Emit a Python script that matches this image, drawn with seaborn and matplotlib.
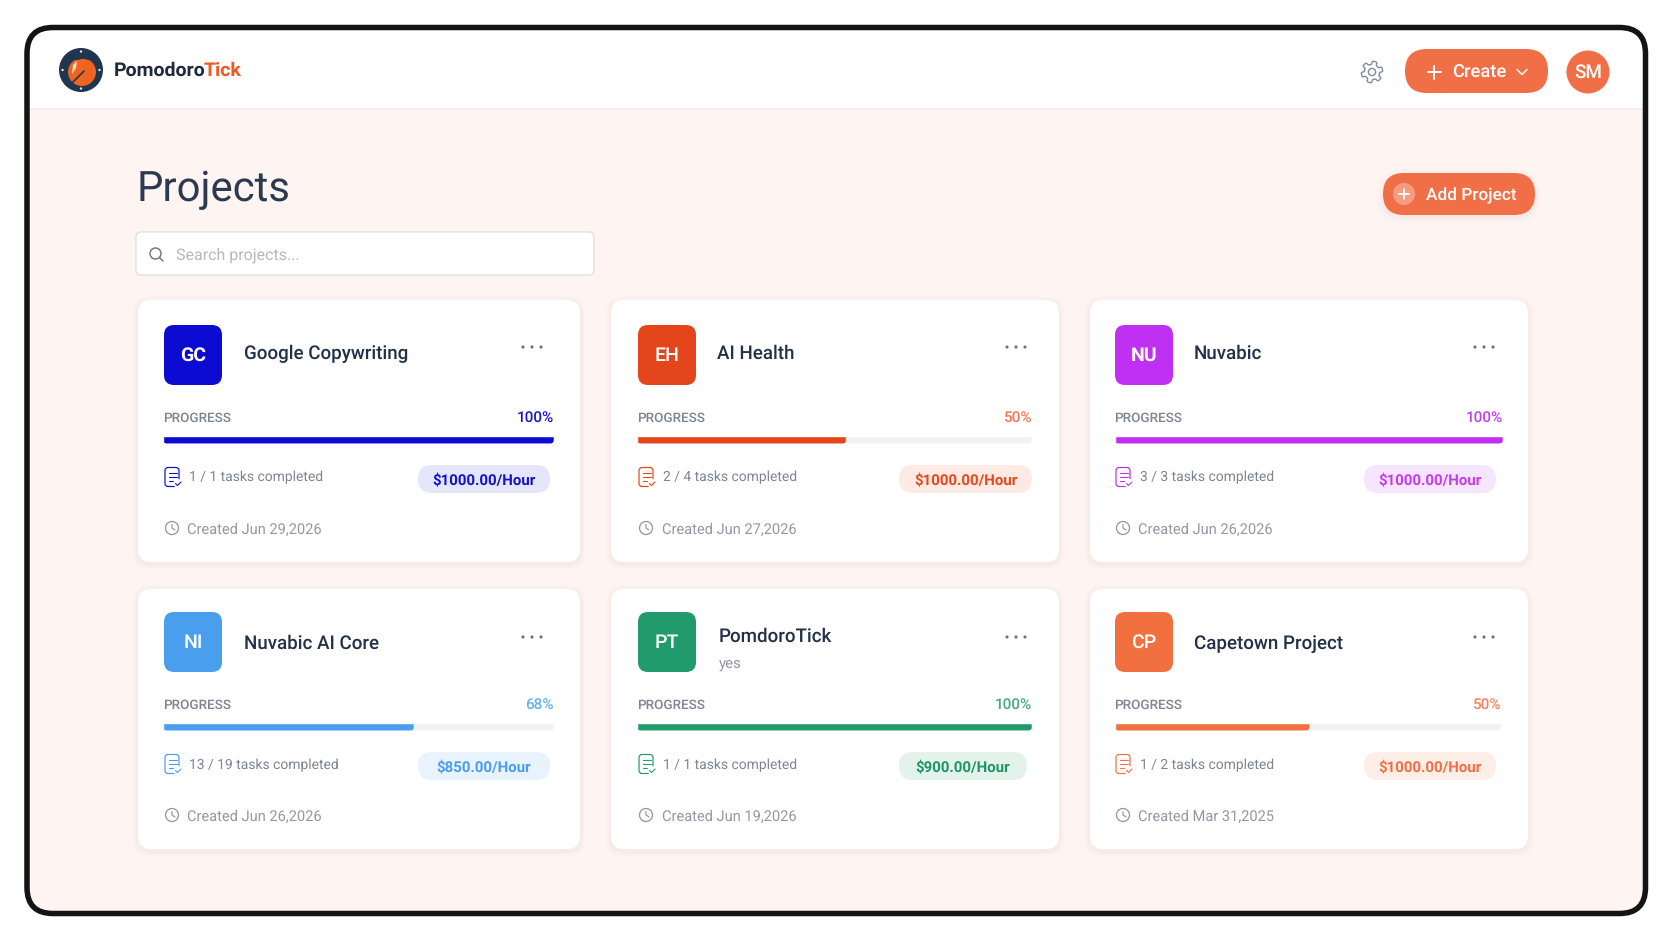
import numpy as np
import matplotlib
matplotlib.use("Agg")
import matplotlib.pyplot as plt
from matplotlib.patches import FancyBboxPatch, Circle, Polygon
import seaborn as sns

W, H = 1672, 941

# card data
names = ['Google Copywriting', 'AI Health', 'Nuvabic', 'Nuvabic AI Core', 'PomdoroTick', 'Capetown Project']
initials = ['GC', 'EH', 'NU', 'NI', 'PT', 'CP']
subtitles = ['', '', '', '', 'yes', '']
pct_labels = ['100%', '50%', '100%', '68%', '100%', '50%']
bar_fill = [100, 53, 100, 64.2, 100, 50.5]
tasks = ['1 / 1 tasks completed', '2 / 4 tasks completed', '3 / 3 tasks completed',
         '13 / 19 tasks completed', '1 / 1 tasks completed', '1 / 2 tasks completed']
rates = ['$1000.00/Hour', '$1000.00/Hour', '$1000.00/Hour', '$850.00/Hour', '$900.00/Hour', '$1000.00/Hour']
created = ['Created Jun 29,2026', 'Created Jun 27,2026', 'Created Jun 26,2026',
           'Created Jun 26,2026', 'Created Jun 19,2026', 'Created Mar 31,2025']

# colours per card
main_col = ['#0b0bd2', '#e5451a', '#c030f2', '#4a9eee', '#219b6b', '#f2703f']
pct_col = ['#1616d8', '#f9754f', '#c440f2', '#66aef2', '#45aa7e', '#f98263']
pill_bg = ['#e6e6fa', '#fdeae4', '#f6e6fd', '#e8f3fd', '#e3f3eb', '#fdeee8']
pill_txt = ['#1212d0', '#e8481a', '#c53cf0', '#4b9ded', '#1f9567', '#f26f43']
initials_weight = ['semibold', 'medium', 'semibold', 'medium', 'medium', 'medium']

# layout, in pixels of the reference
card_x = [(138, 580), (611, 1059), (1090, 1528)] * 2
card_y = [(300, 562)] * 3 + [(589, 849)] * 3
avatar_x = [164, 638, 1115] * 2
title_x = [244, 717, 1194, 244, 719, 1194]
dots_x = [532, 1016, 1484] * 2
bar_x = [(163, 554), (637, 1032), (1114.5, 1503), (163, 554), (637, 1032), (1114.5, 1501)]
pill_x = [(418, 550), (899, 1032), (1364, 1496), (418, 550), (899, 1027), (1364, 1496)]
task_x = [189, 663, 1140, 189, 663, 1140]
created_x = [187, 662, 1138, 187, 662, 1138]

DARK = '#223048'
GREY = '#7d8494'
LIGHT_GREY = '#9298a6'
ORANGE = '#f06f47'
BG = '#fef4f1'

sns.set_theme(style='white')
plt.rcParams['font.family'] = ['Roboto', 'DejaVu Sans']
plt.rcParams['text.hinting'] = 'no_hinting'

fig = plt.figure(figsize=(W / 100, H / 100), dpi=100, facecolor='white')
ax = fig.add_axes([0, 0, 1, 1])
ax.set_xlim(0, W)
ax.set_ylim(H, 0)
ax.axis('off')


def px(v):
    return v * 0.72


def rbox(x0, y0, x1, y1, r, **kw):
    kw.setdefault('linewidth', 0)
    p = FancyBboxPatch((x0 + r, y0 + r), x1 - x0 - 2 * r, y1 - y0 - 2 * r,
                       boxstyle=f'round,pad={r},rounding_size={r}', **kw)
    ax.add_patch(p)
    return p


def disc(x, y, r, color, z=5):
    ax.add_patch(Circle((x, y), r, facecolor=color, linewidth=0, zorder=z))


def ring(x, y, r, color, lw=1.4, z=5):
    ax.add_patch(Circle((x, y), r, facecolor='none', edgecolor=color, linewidth=px(lw), zorder=z))


def txt(x, y, s, size, color, weight='normal', ha='left', **kw):
    ax.text(x, y, s, fontsize=size, color=color, fontweight=weight, ha=ha, va='baseline', **kw)


def shadow(x0, y0, x1, y1, r, color='#c9a79c'):
    for grow, a in [(6, 0.025), (4, 0.035), (2, 0.05)]:
        rbox(x0 - grow, y0 - grow + 2, x1 + grow, y1 + grow + 2, r + grow, facecolor=color, alpha=a, zorder=2)


def stroke(xs, ys, color, lw=1.5, z=6):
    ax.plot(xs, ys, color=color, lw=px(lw), solid_capstyle='round', solid_joinstyle='round', zorder=z)


def task_icon(x, y, color):
    rbox(x, y, x + 14, y + 19, 3, facecolor='white', edgecolor=color, linewidth=px(1.2), zorder=5)
    for yy, l in [(5, 8), (9, 8), (13, 4)]:
        stroke([x + 3.5, x + 3.5 + l], [y + yy, y + yy], color, 1.1)
    disc(x + 13, y + 16, 4.5, 'white', 5.5)
    stroke([x + 10.5, x + 12.5, x + 16], [y + 16, y + 18, y + 14.5], color, 1.1)


def clock_icon(x, y, color):
    ring(x, y, 6.5, color, 1.3)
    stroke([x, x, x + 3], [y - 3.5, y, y + 2], color, 1.2)


def gear_icon(x, y, color):
    t = np.linspace(0, 2 * np.pi, 241)
    r = 9.2 + 1.6 * np.tanh(3 * np.cos(6 * t + np.pi / 2))
    ax.add_patch(Polygon(np.c_[x + r * np.cos(t), y + r * np.sin(t)], closed=True, facecolor='none',
                         edgecolor=color, linewidth=px(1.4), joinstyle='round', zorder=5))
    ring(x, y, 3.6, color)


# device frame, white header clipped to it
frame = rbox(27, 27.5, 1645.5, 913.5, 26, facecolor=BG, zorder=1)
header = ax.fill_between([0, W], 0, 108, color='white', linewidth=0, zorder=1.1)
header.set_clip_path(frame)
ax.plot([30, 1643], [108.5, 108.5], color='#f3ecea', lw=px(1.5), zorder=1.2)
rbox(27, 27.5, 1645.5, 913.5, 26, facecolor='none', edgecolor='#141414', linewidth=px(5.5), zorder=20)

# logo
disc(81, 70, 22, '#1f3550', 3)
disc(82, 72, 14, '#ee6420', 4)
for dx, dy in [(0, -18.5), (0, 18.5), (-18.5, 0), (18.5, 0)]:
    disc(81 + dx, 70 + dy, 1.2, '#e6e9ef')
ax.add_patch(Polygon([(72, 74), (73, 65), (77, 61), (76, 68)], closed=True, facecolor='#ffe3d2', linewidth=0, zorder=5))
stroke([72, 84], [83, 71], '#1f3550', 1.6)
stroke([76, 83, 90], [58.5, 57, 58.5], '#1f3550', 3.5)
txt(114, 76, 'Pomodoro', 14, '#1f2a3c', 'bold')
txt(204, 76, 'Tick', 14, '#f4581f', 'bold')

# top right controls
gear_icon(1372, 72, '#7f8a9e')
rbox(1405, 49, 1548, 93, 22, facecolor=ORANGE, zorder=3)
stroke([1434, 1434], [65.5, 78.5], 'white', 2, 5)
stroke([1427.5, 1440.5], [72, 72], 'white', 2, 5)
txt(1452, 78, 'Create', 13.2, 'white', 'medium', zorder=5)
stroke([1517, 1522, 1527], [69.5, 74.5, 69.5], 'white', 1.5, 5)
disc(1588, 72, 21.5, ORANGE, 3)
txt(1588, 78, 'SM', 13.6, 'white', 'medium', ha='center', zorder=5)

# page head
txt(136.5, 201, 'Projects', 30.2, '#2c3a50', 'normal')
shadow(1383, 173, 1535, 215, 21)
rbox(1383, 173, 1535, 215, 21, facecolor=ORANGE, zorder=3)
disc(1404, 194, 11, '#f59b7f', 4)
stroke([1404, 1404], [189, 199], 'white', 1.8, 5)
stroke([1399, 1409], [194, 194], 'white', 1.8, 5)
txt(1426, 200, 'Add Project', 12.4, 'white', 'medium', zorder=5)

# search box
rbox(136, 232, 594, 275, 5, facecolor='white', edgecolor='#e2dfe0', linewidth=px(1.3), zorder=3)
ring(155.5, 253.5, 5.5, '#6f7a8c', 1.5)
stroke([159.5, 163], [257.5, 261], '#6f7a8c', 1.5)
txt(176.5, 260, 'Search projects...', 11.5, '#b4b8c2', zorder=5)

# cards
for i, name in enumerate(names):
    x0, x1 = card_x[i]
    y0, y1 = card_y[i]
    c = main_col[i]
    row2 = i >= 3

    shadow(x0, y0, x1, y1, 13)
    rbox(x0, y0, x1, y1, 13, facecolor='white', zorder=3)

    ay0 = y0 + 25 - (2 if row2 else 0)
    rbox(avatar_x[i], ay0, avatar_x[i] + 58, ay0 + 60, 10, facecolor=c, zorder=4)
    txt(avatar_x[i] + 29, ay0 + 36, initials[i], 14, 'white', initials_weight[i], ha='center', zorder=5)

    base = 358.5 if not row2 else 648.5
    if subtitles[i]:
        txt(title_x[i], 641.5, name, 13.5, DARK, 'medium', zorder=5)
        txt(title_x[i], 668, subtitles[i], 10.8, LIGHT_GREY, zorder=5)
    else:
        txt(title_x[i], base, name, 13.5, DARK, 'medium', zorder=5)

    dots_y = 347 if not row2 else 637
    for d in (-9, 0, 9):
        disc(dots_x[i] + d, dots_y, 1.6, '#70767f')

    prog_y = 421.5 if not row2 else 708.5
    txt(avatar_x[i] - 1, prog_y, 'PROGRESS', 9.7, GREY, 'medium', zorder=5)
    txt(bar_x[i][1], prog_y, pct_labels[i], 11, pct_col[i], 'medium', ha='right', zorder=5)

    # progress bar: track and fill drawn by seaborn on a 0-100 scale
    bx0, bx1 = bar_x[i]
    by0 = 435.5 if not row2 else 722.5
    bh = 8
    bax = fig.add_axes([bx0 / W, 1 - (by0 + bh) / H, (bx1 - bx0) / W, bh / H], zorder=3)
    sns.barplot(x=[100], y=[name], color='#f2f2f4', width=1, saturation=1, ax=bax, orient='h')
    sns.barplot(x=[bar_fill[i]], y=[name], color=c, width=1, saturation=1, ax=bax, orient='h')
    bax.set_xlim(0, 100)
    bax.set_ylim(0.5, -0.5)
    bax.axis('off')
    for bar in bax.patches:
        end = bx0 + (bx1 - bx0) * bar.get_width() / 100
        clip = FancyBboxPatch((bx0 + 4, by0 + 4), end - bx0 - 8, 0.001,
                              boxstyle='round,pad=4,rounding_size=4',
                              transform=ax.transData, linewidth=0)
        bar.set_clip_path(clip)

    task_base = 481.5 if not row2 else 769.5
    task_icon(avatar_x[i] + 1, task_base - 14 - (1 if row2 else 0), c)
    txt(task_x[i], task_base, tasks[i], 10, GREY, zorder=5)

    py0 = 465 if not row2 else 752
    rbox(pill_x[i][0], py0, pill_x[i][1], py0 + 28, 14, facecolor=pill_bg[i], zorder=4)
    txt(sum(pill_x[i]) / 2, py0 + 19.3, rates[i], 10.8, pill_txt[i], 'semibold', ha='center', zorder=5)

    created_base = 533.5 if not row2 else 820.5
    clock_icon(avatar_x[i] + 8, created_base - 5.5, LIGHT_GREY)
    txt(created_x[i], created_base, created[i], 10.5, LIGHT_GREY, zorder=5)

fig.savefig('out.png', dpi=100, facecolor='white')
